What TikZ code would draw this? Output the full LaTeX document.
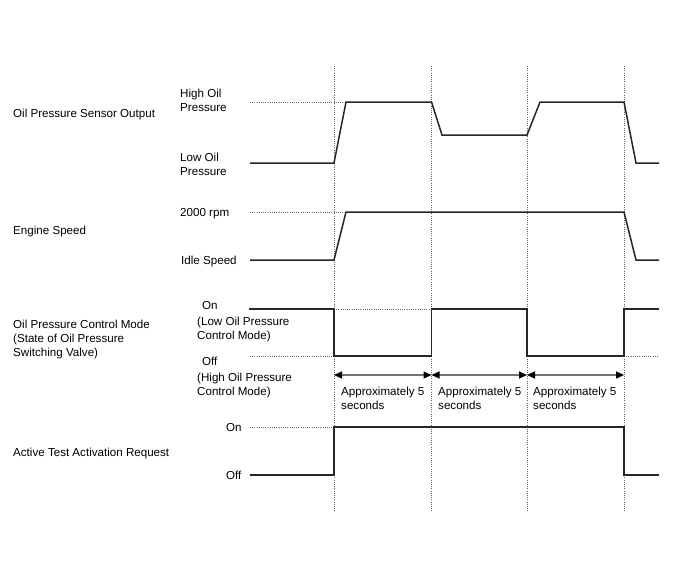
\documentclass[tikz,border=0pt]{standalone}
\usepackage{fontspec}
\setmainfont{Liberation Sans}
\usetikzlibrary{arrows.meta}
\begin{document}
\begin{tikzpicture}[x=1pt,y=-1pt,
  lbl/.style={anchor=base west, inner sep=0pt, font=\fontsize{11.6}{13.6}\selectfont, align=left},
  sig/.style={line width=1.5pt, color=black!85},
  guide/.style={line width=0.8pt, color=black!60, dash pattern=on 0.8pt off 1.4pt},
  dur/.style={line width=1.2pt, color=black!55,
    {Triangle[length=8pt,width=7pt,color=black]}-{Triangle[length=8pt,width=7pt,color=black]}}]
\useasboundingbox (0,0) rectangle (688,560);

% vertical time marks
\coordinate (t1) at (334,66);
\coordinate (t2) at (431.5,66);
\coordinate (t3) at (527,66);
\coordinate (t4) at (624,66);
\foreach \t in {t1,t2,t3,t4}
  \draw[guide] (\t) -- ++(0,445);

% left labels (multi-line nodes: base = last line)
\node[lbl] (l1) at (13,117) {Oil Pressure Sensor Output};
\node[lbl] (l2) at (13,234) {Engine Speed};
\node[lbl] (l3) at (13,356) {Oil Pressure Control Mode\\(State of Oil Pressure\\Switching Valve)};
\node[lbl] (l4) at (13,456) {Active Test Activation Request};

% level labels
\node[lbl] (hi) at (180,111) {High Oil\\Pressure};
\node[lbl] (lo) at (180,175) {Low Oil\\Pressure};
\node[lbl] (rpm) at (180,216) {2000 rpm};
\node[lbl] (idle) at (181,264) {Idle Speed};
\node[lbl] (on1) at (202,309) {On};
\node[lbl] (on1d) at (197,339) {(Low Oil Pressure\\Control Mode)};
\node[lbl] (off1) at (202,365) {Off};
\node[lbl] (off1d) at (197,395) {(High Oil Pressure\\Control Mode)};
\node[lbl] (on2) at (226,431) {On};
\node[lbl] (off2) at (226,479) {Off};

% level guides
\draw[guide] (250,102) -- (346,102);
\draw[guide] (250,212) -- (346,212);
\draw[guide] (250,356) -- (334,356);
\draw[guide] (334,309) -- (431.5,309);
\draw[guide] (624,356) -- (659,356);
\draw[guide] (250,427) -- (334,427);

% signals
\draw[sig] (250,163) -- (334,163) -- (346,102) -- (431.5,102) -- (442,135) -- (527,135)
  -- (540,102) -- (624,102) -- (636,163) -- (659,163);
\draw[sig] (250,260) -- (334,260) -- (346,212) -- (624,212) -- (636,260) -- (659,260);
\draw[sig] (249,309) -- (334,309) -- (334,356) -- (431.5,356) -- (431.5,309) -- (527,309)
  -- (527,356) -- (624,356) -- (624,309) -- (659,309);
\draw[sig] (250,475) -- (334,475) -- (334,427) -- (624,427) -- (624,475) -- (659,475);

% durations
\coordinate (a1) at (334,375);
\coordinate (a2) at (431.5,375);
\coordinate (a3) at (527,375);
\coordinate (a4) at (624,375);
\draw[dur] (a1) -- (a2);
\draw[dur] (a2) -- (a3);
\draw[dur] (a3) -- (a4);
\node[lbl] (d1) at (341,409) {Approximately 5\\seconds};
\node[lbl] (d2) at (438,409) {Approximately 5\\seconds};
\node[lbl] (d3) at (533,409) {Approximately 5\\seconds};
\end{tikzpicture}
\end{document}
